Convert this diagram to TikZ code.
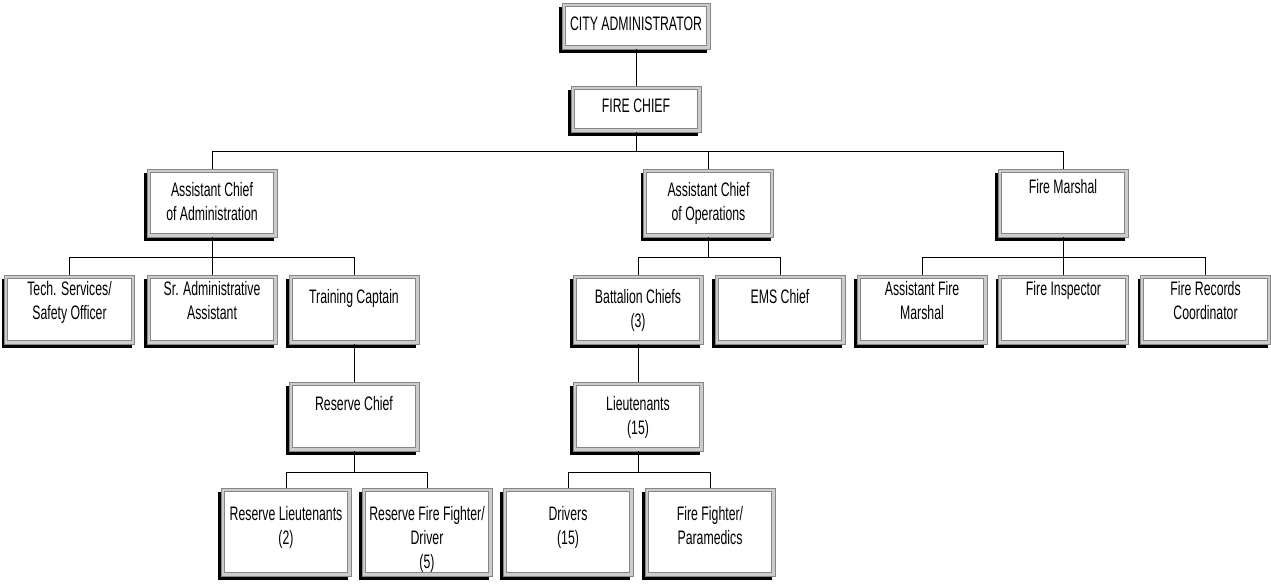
\documentclass[tikz,border=0pt]{standalone}
\usepackage{fontspec}
\setmainfont{Liberation Sans}[FakeStretch=0.63]
\begin{document}
\begin{tikzpicture}[x=1pt,y=-1pt,
  orgbox/.style={rectangle, inner sep=0pt, outer sep=0pt, minimum width=130pt,
    fill=gray!40, draw=gray!95, line width=0.8pt,
    preaction={fill=black, transform canvas={shift={(-3pt,-4pt)}}},
    path picture={\draw[gray!95, line width=0.8pt, fill=white]
      ([shift={(3.2pt,3.2pt)}]path picture bounding box.south west) rectangle
      ([shift={(-3.2pt,-3.2pt)}]path picture bounding box.north east);}},
  orgtext/.style={anchor=north, align=center, inner sep=0pt,
    font=\fontsize{19.5}{24}\selectfont},
  link/.style={draw=black, line width=1pt}]
\useasboundingbox (0,0) rectangle (1271,586);

% top of the chart
\node[orgbox, minimum width=148pt, minimum height=46pt] (city) at (636,26) {};
\node[orgbox, minimum height=46pt] (fire) at (636,109) {};
% division heads
\node[orgbox, minimum height=68pt] (adm) at (212,203) {};
\node[orgbox, minimum height=68pt] (ops) at (708.5,203) {};
\node[orgbox, minimum height=68pt] (fm) at (1063,203) {};
% third level
\node[orgbox, minimum height=69pt] (tech) at (69.5,309.5) {};
\node[orgbox, minimum height=69pt] (sr) at (212,309.5) {};
\node[orgbox, minimum height=69pt] (tc) at (354,309.5) {};
\node[orgbox, minimum height=69pt] (bat) at (638,309.5) {};
\node[orgbox, minimum height=69pt] (ems) at (780,309.5) {};
\node[orgbox, minimum height=69pt] (afm) at (922,309.5) {};
\node[orgbox, minimum height=69pt] (fi) at (1063.5,309.5) {};
\node[orgbox, minimum height=69pt] (fr) at (1205.5,309.5) {};
% fourth level
\node[orgbox, minimum height=69pt] (rc) at (354,416.5) {};
\node[orgbox, minimum height=69pt] (lt) at (638,416.5) {};
% fifth level
\node[orgbox, minimum height=88pt] (rlt) at (286,532) {};
\node[orgbox, minimum height=88pt] (rff) at (427,532) {};
\node[orgbox, minimum height=88pt] (drv) at (568,532) {};
\node[orgbox, minimum height=88pt] (ffp) at (710,532) {};

% box captions
\node[orgtext] (city-t) at (636,17) {CITY ADMINISTRATOR};
\node[orgtext] (fire-t) at (636,99) {FIRE CHIEF};
\node[orgtext] (adm-t) at (212,182) {Assistant Chief\\of Administration};
\node[orgtext] (ops-t) at (708.5,182) {Assistant Chief\\of Operations};
\node[orgtext] (fm-t) at (1063,179) {Fire Marshal};
\node[orgtext] (tech-t) at (69.5,281) {Tech. Services/\\Safety Officer};
\node[orgtext] (sr-t) at (212,281) {Sr. Administrative\\Assistant};
\node[orgtext] (tc-t) at (354,289) {Training Captain};
\node[orgtext] (bat-t) at (638,289) {Battalion Chiefs\\(3)};
\node[orgtext] (ems-t) at (780,289) {EMS Chief};
\node[orgtext] (afm-t) at (922,281) {Assistant Fire\\Marshal};
\node[orgtext] (fi-t) at (1063.5,281) {Fire Inspector};
\node[orgtext] (fr-t) at (1205.5,281) {Fire Records\\Coordinator};
\node[orgtext] (rc-t) at (354,396) {Reserve Chief};
\node[orgtext] (lt-t) at (638,396) {Lieutenants\\(15)};
\node[orgtext] (rlt-t) at (286,506) {Reserve Lieutenants\\(2)};
\node[orgtext] (rff-t) at (427,506) {Reserve Fire Fighter/\\Driver\\(5)};
\node[orgtext] (drv-t) at (568,506) {Drivers\\(15)};
\node[orgtext] (ffp-t) at (710,506) {Fire Fighter/\\Paramedics};

% reporting lines
\draw[link] (city.south) -- (fire.north);
\draw[link] (fire.south) -- (fire.south |- 0,151);
\draw[link] (adm.north) -- ++(0,-18) -| (fm.north);
\draw[link] (ops.north) -- ++(0,-18);

\draw[link] (adm.south) -- ++(0,20);
\draw[link] (tech.north) -- ++(0,-18) -| (tc.north);
\draw[link] (sr.north) -- ++(0,-18);

\draw[link] (ops.south) -- ++(0,20);
\draw[link] (bat.north) -- ++(0,-18) -| (ems.north);

\draw[link] (fm.south) -- ++(0,20);
\draw[link] (afm.north) -- ++(0,-18) -| (fr.north);
\draw[link] (fi.north) -- ++(0,-18);

\draw[link] (tc.south) -- (rc.north);
\draw[link] (bat.south) -- (lt.north);

\draw[link] (rc.south) -- ++(0,21);
\draw[link] (rlt.north) -- ++(0,-16) -| (rff.north);
\draw[link] (lt.south) -- ++(0,21);
\draw[link] (drv.north) -- ++(0,-16) -| (ffp.north);
\end{tikzpicture}
\end{document}
